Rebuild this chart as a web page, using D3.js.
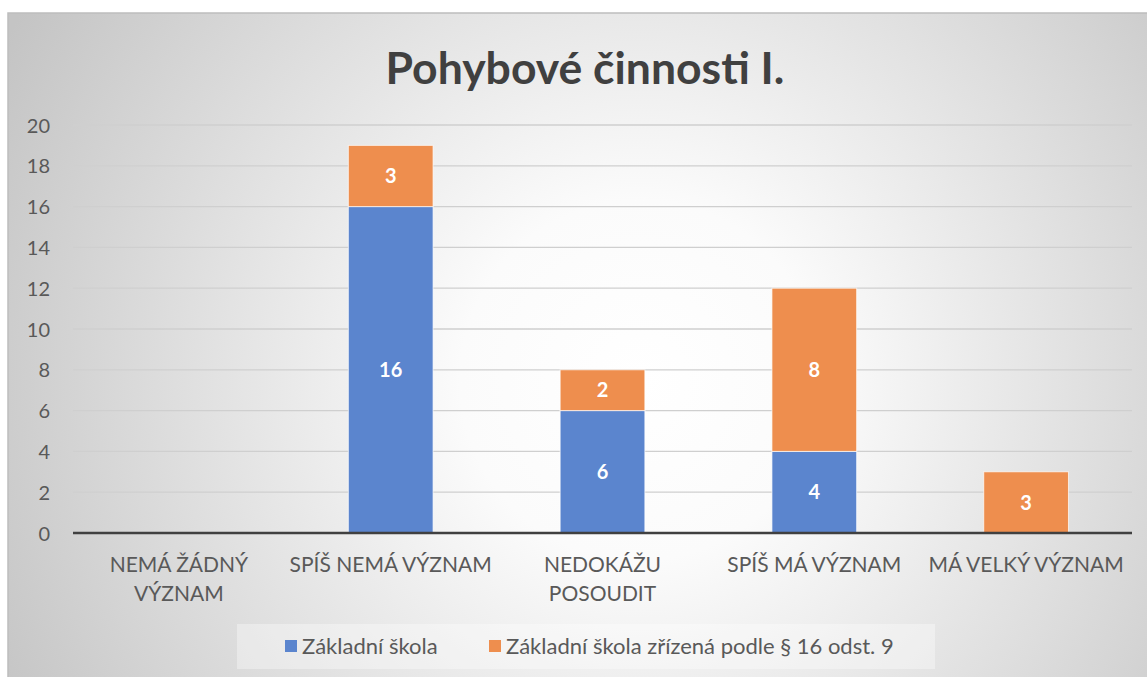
<!DOCTYPE html>
<html><head><meta charset="utf-8">
<script src="https://cdn.jsdelivr.net/npm/d3@7"></script>
<style>html,body{margin:0;padding:0;background:#fff;}svg{display:block;font-family:Lato,"Open Sans",sans-serif;}</style>
</head><body>
<svg id="c" width="1147" height="677"></svg>
<script>
const categories = [["NEMÁ ŽÁDNÝ","VÝZNAM"],["SPÍŠ NEMÁ VÝZNAM"],["NEDOKÁŽU","POSOUDIT"],["SPÍŠ MÁ VÝZNAM"],["MÁ VELKÝ VÝZNAM"]];
const seriesNames = ["Základní škola","Základní škola zřízená podle § 16 odst. 9"];
const zs = [0,16,6,4,0];
const zs16 = [0,3,2,8,3];
const yTicks = [0,2,4,6,8,10,12,14,16,18,20];
const title = "Pohybové činnosti I.";
const colors = ["#5B85CE","#EE8E4E"];

const svg = d3.select("#c");
const defs = svg.append("defs");
const rg = defs.append("radialGradient").attr("id","bg").attr("gradientUnits","userSpaceOnUse")
  .attr("cx",640).attr("cy",380).attr("r",720);
rg.append("stop").attr("offset","0").attr("stop-color","#ffffff");
rg.append("stop").attr("offset","0.25").attr("stop-color","#fbfbfb");
rg.append("stop").attr("offset","1").attr("stop-color","#c4c4c4");

svg.append("rect").attr("x",8).attr("y",13).attr("width",1147).attr("height",677).attr("fill","url(#bg)")
  .attr("stroke","#bdbdbd").attr("stroke-width",1.5);

svg.append("text").attr("x",585).attr("y",84).attr("text-anchor","middle")
  .attr("font-size",44.5).attr("font-weight",700).attr("fill","#404040").text(title);

const x = d3.scaleBand().domain(d3.range(categories.length)).range([73,1132]).paddingInner(0.6).paddingOuter(0.3);
const y = d3.scaleLinear().domain([0,20]).range([533,125]);

const g = svg.append("g");
g.selectAll("line.grid").data(yTicks.filter(d=>d>0)).join("line")
  .attr("x1",73).attr("x2",1132).attr("y1",d=>y(d)).attr("y2",d=>y(d))
  .attr("stroke","#cfcfcf").attr("stroke-width",1.3);

const yAxis = d3.axisLeft(y).tickValues(yTicks).tickSize(0).tickPadding(0);
const ya = svg.append("g").attr("transform","translate(50,0)").call(yAxis);
ya.select(".domain").remove();
ya.selectAll("text").attr("font-size",20).attr("fill","#595959").attr("font-family","Lato, sans-serif").attr("dy","0.35em");

const stack = d3.stack().keys([0,1])(categories.map((c,i)=>({0:zs[i],1:zs16[i],i})));
stack.forEach((s,si)=>{
  const gs = g.append("g");
  gs.selectAll("rect").data(s.filter(d=>d[1]-d[0]>0)).join("rect")
    .attr("x",d=>x(d.data.i)).attr("width",x.bandwidth())
    .attr("y",d=>y(d[1])).attr("height",d=>y(d[0])-y(d[1]))
    .attr("fill",colors[si]).attr("stroke","#ffffff").attr("stroke-opacity",0.7).attr("stroke-width",1);
  gs.selectAll("text").data(s.filter(d=>d[1]-d[0]>0)).join("text")
    .attr("x",d=>x(d.data.i)+x.bandwidth()/2).attr("y",d=>(y(d[0])+y(d[1]))/2).attr("dy","0.36em")
    .attr("text-anchor","middle").attr("font-size",20).attr("font-weight",700).attr("fill","#ffffff")
    .text(d=>d[1]-d[0]);
});

g.append("line").attr("x1",73).attr("x2",1132).attr("y1",y(0)).attr("y2",y(0)).attr("stroke","#404040").attr("stroke-width",2.5);

const xl = svg.append("g");
categories.forEach((lines,i)=>{
  const t = xl.append("text").attr("text-anchor","middle").attr("font-size",21).attr("fill","#595959");
  lines.forEach((ln,j)=>t.append("tspan").attr("x",x(i)+x.bandwidth()/2).attr("y",572+j*29).text(ln));
});

// legend
svg.append("rect").attr("x",237).attr("y",624).attr("width",698).attr("height",45).attr("fill","#ffffff").attr("fill-opacity",0.35);
const lg = svg.append("g");
const items = [{x:285},{x:489}];
seriesNames.forEach((n,i)=>{
  lg.append("rect").attr("x",items[i].x).attr("y",640).attr("width",12).attr("height",12).attr("fill",colors[i]);
  lg.append("text").attr("x",items[i].x+17).attr("y",654).attr("font-size",22).attr("fill","#595959").text(n);
});
</script>
</body></html>
